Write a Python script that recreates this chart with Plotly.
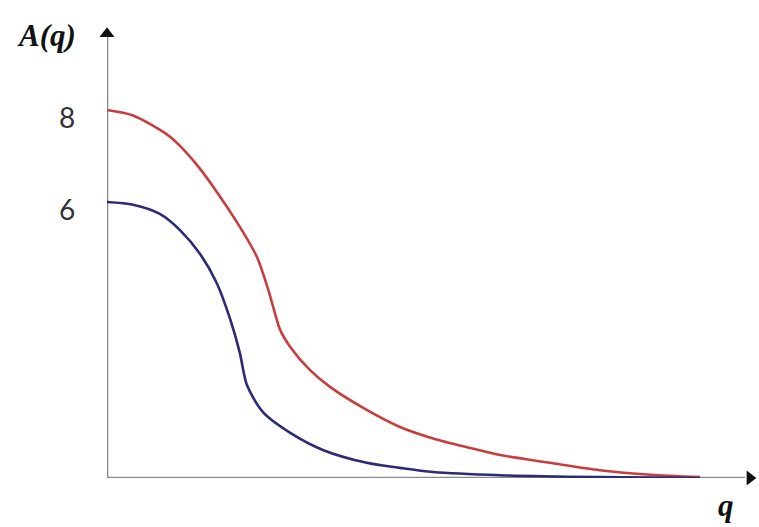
import plotly.graph_objects as go

# Data (q in arbitrary units, A(q) values)
q_red = [0.0, 0.44, 1.01, 1.23, 1.57, 1.91, 2.24, 2.53, 2.72, 2.83, 2.92, 3.09, 3.42, 3.76, 4.38, 4.94, 5.50, 6.07, 6.63, 7.47, 8.31, 9.16, 10.0]
a_red = [8.0, 7.88, 7.47, 7.22, 6.72, 6.11, 5.46, 4.80, 4.09, 3.59, 3.22, 2.85, 2.35, 1.98, 1.48, 1.11, 0.86, 0.67, 0.50, 0.33, 0.17, 0.07, 0.02]

q_blue = [0.0, 0.44, 0.89, 1.23, 1.57, 1.85, 2.07, 2.24, 2.36, 2.63, 3.09, 3.64, 4.38, 4.94, 5.50, 6.63, 8.31, 10.0]
a_blue = [6.0, 5.94, 5.74, 5.39, 4.87, 4.24, 3.48, 2.72, 2.02, 1.43, 0.98, 0.61, 0.33, 0.22, 0.13, 0.06, 0.02, 0.0]

tick_vals = [8, 6]
tick_text = ["8", "6"]

W, H = 759, 527
L, R, T, B = 107, 0, 0, 49
PW, PH = W - L - R, H - T - B
px_per_q = 59.3
px_per_a = 46.0
X_MAX = PW / px_per_q
Y_MAX = PH / px_per_a

fig = go.Figure()

fig.add_trace(go.Scatter(x=q_red, y=a_red, mode="lines",
                         line=dict(color="#c83d3e", width=2.6, shape="spline", smoothing=0.8),
                         hoverinfo="skip", cliponaxis=False))
fig.add_trace(go.Scatter(x=q_blue, y=a_blue, mode="lines",
                         line=dict(color="#2c2b76", width=2.6, shape="spline", smoothing=0.8),
                         hoverinfo="skip", cliponaxis=False))

axis_col = "#8a8a8a"
y_tip = (PH - 26) / px_per_a
x_tip = (PW - 2) / px_per_q
# axis lines
fig.add_shape(type="line", x0=0, y0=0, x1=0, y1=y_tip - 0.2, xref="x", yref="y",
              line=dict(color=axis_col, width=2.6), layer="below")
fig.add_shape(type="line", x0=0, y0=0, x1=x_tip - 0.2, y1=0, xref="x", yref="y",
              line=dict(color=axis_col, width=2.6), layer="below")
# arrow heads
fig.add_trace(go.Scatter(x=[0], y=[y_tip - 0.17], mode="markers",
                         marker=dict(symbol="triangle-up", size=13, color="#111111"),
                         hoverinfo="skip", cliponaxis=False))
fig.add_trace(go.Scatter(x=[x_tip - 0.12], y=[0], mode="markers",
                         marker=dict(symbol="triangle-right", size=13, color="#111111"),
                         hoverinfo="skip", cliponaxis=False))

# tick labels
for v, t in zip(tick_vals, tick_text):
    fig.add_annotation(x=-40 / PW, y=v - 0.15, text=t, showarrow=False,
                       xref="paper", yref="y", xanchor="center", yanchor="middle",
                       font=dict(family="Lato, Noto Sans, sans-serif", size=28, color="#333333"))

# axis titles
fig.add_annotation(x=-61 / PW, y=442 / PH, text="<b><i>A(q)</i></b>",
                   showarrow=False, xref="paper", yref="paper", xanchor="center", yanchor="middle",
                   font=dict(family="Liberation Serif, DejaVu Serif, serif", size=31, color="#111111"))
fig.add_annotation(x=619 / PW, y=-27 / PH, text="<b><i>q</i></b>",
                   showarrow=False, xref="paper", yref="paper", xanchor="center", yanchor="middle",
                   font=dict(family="Liberation Serif, DejaVu Serif, serif", size=31, color="#111111"))

fig.update_layout(
    width=W, height=H,
    margin=dict(l=L, r=R, t=T, b=B),
    paper_bgcolor="white", plot_bgcolor="white",
    showlegend=False,
    xaxis=dict(range=[0, X_MAX], visible=False, fixedrange=True),
    yaxis=dict(range=[0, Y_MAX], visible=False, fixedrange=True),
)

fig.write_html("out.html", config={"displayModeBar": False},
               post_script="document.body.style.margin='0';document.body.style.overflow='hidden';")
